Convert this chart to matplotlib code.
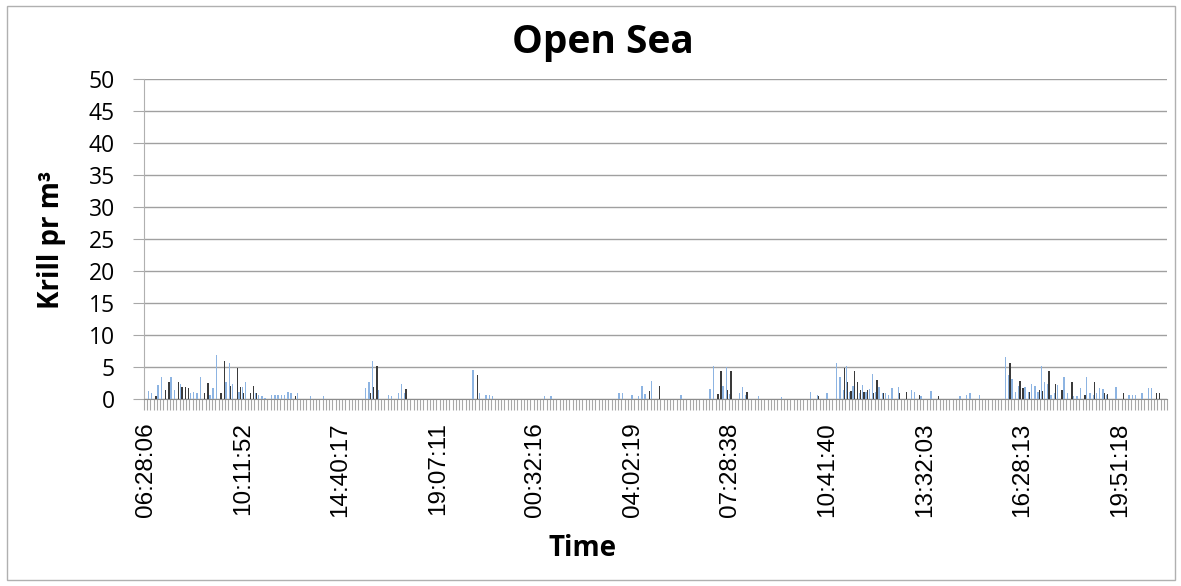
import numpy as np
import matplotlib
matplotlib.use('Agg')
import matplotlib.pyplot as plt
from matplotlib.patches import Rectangle

# krill densities per sample (two series), 315 samples
blue_vals = [
    0, 1.3, 1.0, 0, 2.2, 3.5, 0, 0, 3.5, 1.4, 0, 2.4, 0, 0, 0.9,
    1.1, 1.0, 3.4, 0, 0, 0.6, 1.7, 6.9, 0, 0, 2.7, 5.7, 2.4, 0, 1.1,
    1.9, 2.7, 0, 0, 1.0, 0.6, 0.4, 0.2, 0, 0.6, 0.6, 0.6, 0.6, 0.6, 1.1,
    1.0, 0, 1.0, 0, 0, 0, 0.4, 0, 0, 0, 0.4, 0, 0, 0, 0,
    0, 0, 0, 0, 0, 0, 0, 0, 1.7, 2.7, 5.9, 0, 1.4, 0, 0,
    0.6, 0.5, 0, 1.0, 2.4, 0.9, 0, 0, 0, 0, 0, 0, 0, 0, 0,
    0, 0, 0, 0, 0, 0, 0, 0, 0, 0, 0, 4.5, 0, 0.9, 0,
    0.6, 0.6, 0.4, 0, 0, 0, 0, 0, 0, 0, 0, 0, 0, 0, 0,
    0, 0, 0, 0.4, 0, 0.4, 0, 0, 0, 0, 0, 0, 0, 0, 0,
    0, 0, 0, 0, 0, 0, 0, 0, 0, 0, 0, 0.9, 1.0, 0, 0,
    0.7, 0, 0.5, 2.1, 0.8, 0, 2.8, 0, 0, 0, 0, 0, 0, 0, 0,
    0.6, 0, 0, 0, 0, 0, 0, 0, 0, 1.5, 5.2, 0, 0, 2.1, 5.0,
    0.8, 0, 0, 0.9, 1.9, 0.6, 0, 0, 0, 0.4, 0, 0, 0, 0, 0,
    0, 0.3, 0, 0, 0, 0, 0, 0, 0, 0, 1.1, 0, 0.6, 0, 0,
    1.0, 0, 0, 5.6, 3.5, 1.4, 5.2, 1.1, 2.0, 0, 1.0, 2.2, 1.1, 1.5, 3.9,
    1.1, 1.9, 0.9, 1.0, 0.7, 1.7, 0, 1.8, 0, 0, 0, 1.4, 1.1, 0, 0.4,
    0, 0, 1.25, 0, 0, 0, 0, 0, 0, 0, 0, 0.5, 0, 0.6, 1.0,
    0, 0, 0.6, 0, 0, 0, 0, 0, 0, 0, 6.6, 3.75, 3.2, 1.1, 2.0,
    0, 1.9, 1.1, 2.3, 2.0, 1.1, 5.2, 2.7, 2.4, 0.6, 0.9, 2.2, 0, 3.4, 1.0,
    0, 0.5, 0.4, 1.7, 0, 3.4, 0.9, 0.6, 1.0, 1.7, 1.5, 0.7, 0, 0, 1.8,
    0, 0, 0, 0.6, 0.6, 0.6, 0, 1.0, 0, 1.7, 1.7, 0, 0, 0, 0,
]
dark_vals = [
    0, 0, 0, 0.4, 0, 0, 1.4, 2.7, 0, 0, 2.6, 1.9, 1.8, 1.7, 0,
    0, 0, 0, 0.9, 2.5, 0, 0, 0, 0.9, 6.0, 0, 2.0, 0, 4.9, 1.8,
    0.9, 0, 1.0, 2.0, 1.0, 0, 0, 0, 0, 0, 0, 0, 0, 0, 0,
    0, 0.5, 0, 0, 0, 0, 0, 0, 0, 0, 0, 0, 0, 0, 0,
    0, 0, 0, 0, 0, 0, 0, 0, 0, 0.9, 1.9, 5.2, 0, 0, 0,
    0, 0, 0, 0, 0, 1.6, 0, 0, 0, 0, 0, 0, 0, 0, 0,
    0, 0, 0, 0, 0, 0, 0, 0, 0, 0, 0, 0, 3.8, 0, 0,
    0, 0, 0, 0, 0, 0, 0, 0, 0, 0, 0, 0, 0, 0, 0,
    0, 0, 0, 0, 0, 0, 0, 0, 0, 0, 0, 0, 0, 0, 0,
    0, 0, 0, 0, 0, 0, 0, 0, 0, 0, 0, 0, 0, 0, 0,
    0, 0, 0, 0, 0, 1.25, 0, 0, 2.0, 0, 0, 0, 0, 0, 0,
    0, 0, 0, 0, 0, 0, 0, 0, 0, 0, 0, 0.8, 4.4, 0, 1.4,
    4.4, 0, 0, 0, 0, 1.1, 0, 0, 0, 0, 0, 0, 0, 0, 0,
    0, 0, 0, 0, 0, 0, 0, 0, 0, 0, 0, 0, 0.4, 0, 0,
    0, 0, 0, 0, 0, 4.8, 2.6, 1.25, 4.3, 2.6, 1.4, 1.1, 1.4, 0, 0.9,
    3.0, 0, 1.0, 0, 0, 0, 0, 0.9, 0, 1.05, 0, 0, 0, 0.7, 0,
    0, 0, 0, 0, 0.4, 0, 0, 0, 0, 0, 0, 0, 0, 0, 0,
    0, 0, 0, 0, 0, 0, 0, 0, 0, 0, 0, 5.7, 0, 0, 2.8,
    1.7, 0, 1.1, 0, 0, 1.4, 1.25, 0, 4.4, 0, 2.4, 0, 1.4, 0, 0,
    2.6, 0, 0, 0, 0.6, 0, 0, 2.6, 0, 0, 1.0, 0.8, 0, 0, 0,
    0, 1.0, 0, 0, 0, 0, 0, 0, 0, 0, 0, 0.9, 0.9, 0, 0,
]
# every 30th sample carries a label
time_labels = ['06:28:06', '10:11:52', '14:40:17', '19:07:11', '00:32:16',
               '04:02:19', '07:28:38', '10:41:40', '13:32:03', '16:28:13',
               '19:51:18']
label_step = 30

n = len(blue_vals)
x = np.arange(n)

W, H = 1181, 586
fig = plt.figure(figsize=(W / 100, H / 100), dpi=100)
ax = fig.add_axes([144/W, 1 - 399/H, (1167-144)/W, 320/H])

# outer chart border (excel style)
fig.patches.append(Rectangle((7/W, 6/H), 1168/W, 574/H, transform=fig.transFigure,
                             fill=False, edgecolor='#b0b0b0', linewidth=1))

ax.bar(x - 0.2, blue_vals, width=0.42, color='#8db4e2', linewidth=0, zorder=3)
ax.bar(x + 0.2, dark_vals, width=0.42, color='#3a3a3a', linewidth=0, zorder=3)

ax.set_xlim(-0.5, n - 0.5)
ax.set_ylim(0, 50)
ax.set_yticks(np.arange(0, 51, 5))
ax.yaxis.grid(True, color='#a0a0a0', linewidth=1)
ax.set_axisbelow(True)

ax.set_xticks(x[::label_step])
ax.set_xticklabels(time_labels, rotation=90, family='Liberation Sans', fontsize=17.5)
ax.set_xticks(np.arange(-0.5, n, 1), minor=True)
ax.tick_params(axis='x', which='major', length=0, pad=17)
ax.tick_params(axis='x', which='minor', length=8, color='#a8a8a8', width=0.8)
ax.tick_params(axis='y', length=8, color='#a8a8a8', labelsize=16.5, pad=13)
for lab in ax.get_yticklabels():
    lab.set_family('Open Sans')

for s in ['top', 'right']:
    ax.spines[s].set_visible(False)
ax.spines['left'].set_color('#b0b0b0')
ax.spines['bottom'].set_color('#8c8c8c')

fig.text(603/W, 1 - 43/H, 'Open Sea', family='Open Sans', fontweight='bold',
         fontsize=28, ha='center', va='center')
fig.text(52/W, 1 - 240/H, 'Krill pr m³', family='Open Sans', fontweight='bold',
         fontsize=20, rotation=90, ha='center', va='center')
fig.text(583/W, 1 - 549/H, 'Time', family='Open Sans', fontweight='bold',
         fontsize=20, ha='center', va='center')

fig.savefig('out.png', dpi=100)
